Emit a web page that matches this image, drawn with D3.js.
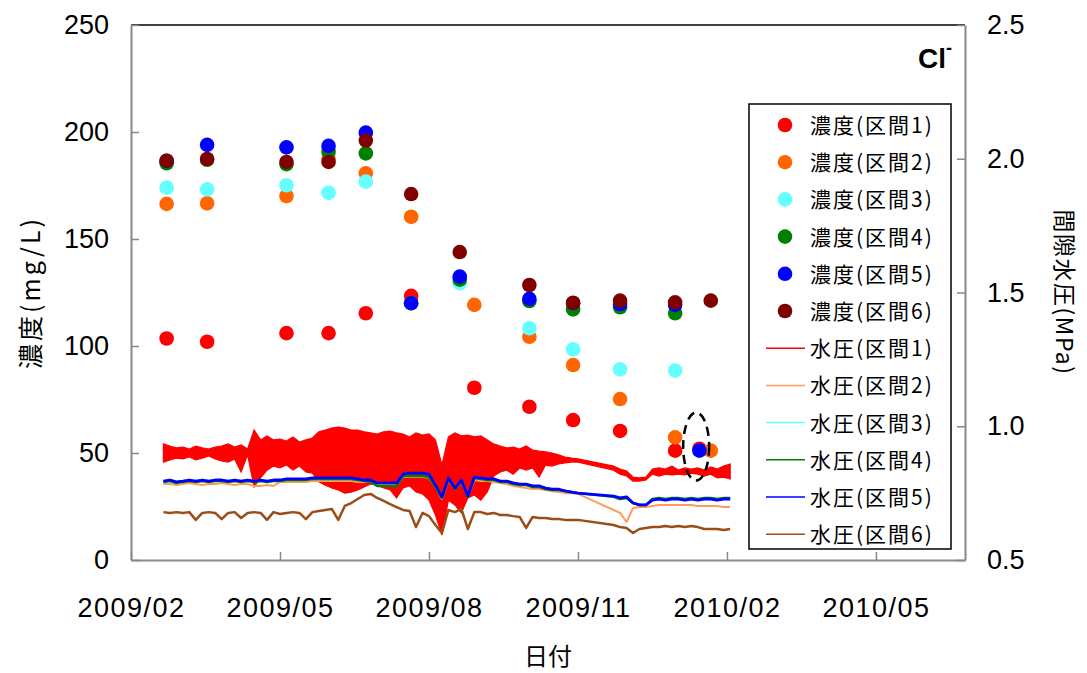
<!DOCTYPE html>
<html>
<head>
<meta charset="utf-8">
<script src="https://cdn.jsdelivr.net/npm/d3@7"></script>
<style>
body { margin: 0; background: #fff; }
text { font-family: "Liberation Sans", Arial, sans-serif; fill: #000; }
.jp { font-family: "Noto Sans CJK JP", sans-serif; }
</style>
</head>
<body>
<svg width="1087" height="673"></svg>
<script>
// concentration sampling dates (Cl-, mg/L)
var sampleDates = ["2009-02-23", "2009-03-20", "2009-05-08", "2009-06-03", "2009-06-26", "2009-07-24",
  "2009-08-23", "2009-09-01", "2009-10-05", "2009-11-01", "2009-11-30", "2010-01-03", "2010-01-18", "2010-01-25"];

var conc1 = [103.5, 102, 106, 106, 115.3, 123.4, null, 80.5, 71.6, 65.4, 60.3, 51.1, 52, null];
var conc2 = [166.4, 166.7, 170.1, 187.5, 180.7, 160.4, null, 119.2, 104.3, 91.1, 75.2, 57.3, null, 51.1];
var conc3 = [174, 173.2, 175.1, 171.6, 176.8, 120, 129.4, null, 108.3, 98.4, 89.1, 88.5, null, null];
var conc4 = [185.4, 187, 185, 190.8, 190, 120, 131, null, 121, 117.1, 118.1, 115.3, null, null];
var conc5 = [186.5, 194, 192.8, 193.5, 199.7, 120, 132.4, null, 122, 120, 119.6, 119.2, 51.1, null];
var conc6 = [186.6, 187.4, 186, 186, 196, 171, 143.9, null, 128.5, 120.2, 121.2, 120.4, null, 121.2];

// pore water pressure logger (MPa), 4-day readings, with a gap in Nov 2009
var presStartA = "2009-02-21", presCountA = 65;
var presStartB = "2009-11-26", presCountB = 19;
var presStep = 4;

// interval 1 swings a lot, so it is kept as high / low of each reading window
var pres1Hi = [0.934,0.926,0.919,0.922,0.915,0.926,0.919,0.915,0.922,0.926,
  0.934,0.922,0.930,0.915,0.986,0.949,0.964,0.949,0.952,0.945,
  0.960,0.941,0.949,0.956,0.979,0.986,0.993,0.997,0.993,0.986,
  0.986,0.979,0.975,0.971,0.979,0.982,0.975,0.971,0.960,0.975,
  0.967,0.971,0.949,0.855,0.960,0.975,0.964,0.967,0.960,0.964,
  0.949,0.934,0.926,0.919,0.922,0.915,0.926,0.911,0.907,0.904,
  0.900,0.893,0.885,0.881,0.878,
  0.851,0.840,0.833,0.810,0.807,0.810,0.840,0.844,0.840,0.851,0.836,0.844,0.840,0.844,0.836,0.848,0.840,0.851,0.859];
var pres1Lo = [0.866,0.874,0.881,0.878,0.885,0.874,0.881,0.889,0.878,0.870,
  0.866,0.878,0.829,0.893,0.773,0.807,0.836,0.851,0.844,0.855,
  0.836,0.851,0.829,0.825,0.792,0.780,0.769,0.762,0.750,0.754,
  0.762,0.773,0.784,0.780,0.769,0.762,0.732,0.769,0.777,0.754,
  0.747,0.724,0.668,0.593,0.724,0.706,0.676,0.732,0.743,0.724,
  0.754,0.814,0.829,0.836,0.821,0.844,0.836,0.844,0.810,0.855,
  0.851,0.859,0.863,0.866,0.866,
  0.836,0.821,0.814,0.795,0.795,0.799,0.821,0.814,0.821,0.818,0.821,0.818,0.825,0.821,0.814,0.821,0.807,0.810,0.803];
var pres2 = [0.784,0.784,0.780,0.784,0.788,0.784,0.780,0.784,0.784,0.788,
  0.784,0.780,0.784,0.784,0.777,0.777,0.780,0.777,0.792,0.792,
  0.792,0.792,0.792,0.795,0.795,0.795,0.795,0.795,0.795,0.795,
  0.792,0.792,0.792,0.780,0.780,0.780,0.780,0.810,0.810,0.810,
  0.810,0.807,0.773,0.728,0.799,0.765,0.792,0.736,0.799,0.795,
  0.795,0.792,0.788,0.784,0.777,0.773,0.769,0.765,0.765,0.762,
  0.758,0.754,0.750,0.750,0.747,
  0.687,0.676,0.642,0.694,0.698,0.698,0.702,0.706,0.706,0.706,0.706,0.706,0.706,0.702,0.702,0.702,0.702,0.698,0.698];
var pres3 = [0.795,0.799,0.792,0.795,0.799,0.795,0.799,0.795,0.799,0.799,
  0.795,0.799,0.795,0.799,0.795,0.799,0.795,0.799,0.799,0.803,
  0.803,0.803,0.803,0.807,0.807,0.807,0.807,0.807,0.807,0.807,
  0.803,0.799,0.799,0.788,0.788,0.788,0.788,0.821,0.825,0.825,
  0.825,0.821,0.780,0.736,0.807,0.769,0.799,0.739,0.810,0.807,
  0.803,0.803,0.795,0.795,0.788,0.784,0.784,0.777,0.777,0.769,
  0.765,0.765,0.758,0.754,0.750,
  0.739,0.732,0.736,0.713,0.706,0.706,0.724,0.728,0.724,0.728,0.728,0.724,0.728,0.724,0.728,0.728,0.724,0.728,0.728];
var pres4 = [0.792,0.795,0.788,0.792,0.795,0.792,0.795,0.792,0.795,0.795,
  0.792,0.795,0.792,0.795,0.792,0.795,0.792,0.795,0.795,0.799,
  0.799,0.799,0.799,0.803,0.803,0.803,0.803,0.803,0.803,0.803,
  0.799,0.795,0.792,0.777,0.777,0.777,0.777,0.814,0.814,0.814,
  0.814,0.810,0.773,0.732,0.803,0.765,0.795,0.736,0.807,0.803,
  0.799,0.799,0.792,0.792,0.784,0.780,0.780,0.773,0.773,0.765,
  0.762,0.762,0.758,0.754,0.750,
  0.736,0.728,0.732,0.713,0.706,0.706,0.728,0.732,0.728,0.732,0.732,0.728,0.732,0.728,0.732,0.732,0.728,0.732,0.732];
var pres5 = [0.795,0.799,0.792,0.795,0.799,0.795,0.799,0.795,0.799,0.799,
  0.795,0.799,0.795,0.799,0.795,0.799,0.795,0.799,0.799,0.803,
  0.803,0.803,0.803,0.807,0.807,0.807,0.807,0.807,0.807,0.807,
  0.803,0.799,0.799,0.788,0.788,0.788,0.788,0.821,0.825,0.825,
  0.825,0.821,0.780,0.736,0.807,0.769,0.799,0.739,0.810,0.807,
  0.803,0.803,0.795,0.795,0.788,0.784,0.784,0.777,0.777,0.769,
  0.765,0.765,0.758,0.754,0.750,
  0.739,0.732,0.736,0.713,0.706,0.706,0.724,0.728,0.724,0.728,0.728,0.724,0.728,0.724,0.728,0.728,0.724,0.728,0.728];
var pres6 = [0.679,0.676,0.679,0.676,0.679,0.650,0.676,0.679,0.676,0.653,
  0.676,0.679,0.657,0.676,0.679,0.676,0.650,0.679,0.672,0.676,
  0.679,0.676,0.653,0.679,0.683,0.687,0.691,0.650,0.702,0.713,
  0.728,0.743,0.747,0.732,0.721,0.709,0.698,0.687,0.683,0.623,
  0.676,0.664,0.631,0.601,0.687,0.679,0.691,0.616,0.679,0.679,
  0.672,0.676,0.668,0.668,0.664,0.661,0.620,0.661,0.657,0.657,
  0.653,0.653,0.650,0.650,0.650,
  0.631,0.623,0.620,0.601,0.616,0.620,0.623,0.623,0.627,0.623,0.627,0.623,0.627,0.623,0.616,0.616,0.616,0.612,0.616];

var xTickDates = ["2009-02-01", "2009-05-04", "2009-08-04", "2009-11-04", "2010-02-04", "2010-05-07"];
var yLeftTicks = [0, 50, 100, 150, 200, 250];
var yRightTicks = [0.5, 1.0, 1.5, 2.0, 2.5];

var concLabels = ["濃度(区間1)", "濃度(区間2)", "濃度(区間3)", "濃度(区間4)", "濃度(区間5)", "濃度(区間6)"];
var presLabels = ["水圧(区間1)", "水圧(区間2)", "水圧(区間3)", "水圧(区間4)", "水圧(区間5)", "水圧(区間6)"];
var concColors = ["#ff0000", "#ff6600", "#66ffff", "#008000", "#0000ff", "#800000"];
var presColors = ["#ff0000", "#ff9c5a", "#66ffff", "#008000", "#0000ff", "#9a4d16"];

var svg = d3.select("svg");
var margin = { top: 25, right: 122, bottom: 113, left: 131 };
var W = 1087, H = 673;
var parse = d3.utcParse("%Y-%m-%d");

var x = d3.scaleUtc()
  .domain([parse("2009-02-01"), parse("2010-07-01")])
  .range([margin.left, W - margin.right]);
var yL = d3.scaleLinear().domain([0, 250]).range([H - margin.bottom, margin.top]);
var yR = d3.scaleLinear().domain([0.5, 2.5]).range([H - margin.bottom, margin.top]);

// pressure dates
var daysA = d3.utcDay.range(parse(presStartA), d3.utcDay.offset(parse(presStartA), presStep * presCountA), presStep);
var daysB = d3.utcDay.range(parse(presStartB), d3.utcDay.offset(parse(presStartB), presStep * presCountB), presStep);
var presDates = daysA.concat(daysB);

// plot frame: black top, grey axes
svg.append("line")
  .attr("x1", margin.left).attr("x2", W - margin.right)
  .attr("y1", margin.top).attr("y2", margin.top)
  .attr("stroke", "#000").attr("stroke-width", 1.5);

// pressure
var g = svg.append("g");

var band = d3.area()
  .x(function(d, i) { return x(presDates[i]); })
  .y0(function(d, i) { return yR(pres1Lo[i]); })
  .y1(function(d, i) { return yR(pres1Hi[i]); });
g.append("path")
  .attr("d", band(pres1Hi))
  .attr("fill", presColors[0])
  .attr("stroke", presColors[0])
  .attr("stroke-width", 1.2);

var line = d3.line()
  .x(function(d, i) { return x(presDates[i]); })
  .y(function(d) { return yR(d); });

var presSeries = [pres2, pres3, pres4, pres5, pres6];
var presWidths = [2, 2, 2.5, 2.8, 2.5];
presSeries.forEach(function(s, k) {
  g.append("path")
    .attr("d", line(s))
    .attr("fill", "none")
    .attr("stroke", presColors[k + 1])
    .attr("stroke-width", presWidths[k])
    .attr("stroke-linejoin", "round");
});

// concentration dots
var concSeries = [conc1, conc2, conc3, conc4, conc5, conc6];
concSeries.forEach(function(s, k) {
  g.selectAll(null)
    .data(s.map(function(v, i) { return { date: parse(sampleDates[i]), v: v }; })
      .filter(function(d) { return d.v !== null; }))
    .enter().append("circle")
    .attr("cx", function(d) { return x(d.date); })
    .attr("cy", function(d) { return yL(d.v); })
    .attr("r", 7.3)
    .attr("fill", concColors[k]);
});

// dashed ring around the interval 5 reading of Jan 2010
svg.append("ellipse")
  .attr("cx", x(parse("2010-01-16")))
  .attr("cy", yL(53))
  .attr("rx", 13).attr("ry", 34)
  .attr("fill", "none")
  .attr("stroke", "#000")
  .attr("stroke-width", 2.5)
  .attr("stroke-dasharray", "9,6");

// axes
var fmt = d3.utcFormat("%Y/%m");
var xAxis = d3.axisBottom(x)
  .tickValues(xTickDates.map(parse))
  .tickFormat(fmt)
  .tickSizeInner(-8).tickSizeOuter(0)
  .tickPadding(38);
var axB = svg.append("g")
  .attr("transform", "translate(0," + (H - margin.bottom) + ")")
  .call(xAxis);

var axL = svg.append("g")
  .attr("transform", "translate(" + margin.left + ",0)")
  .call(d3.axisLeft(yL).tickValues(yLeftTicks).tickSizeInner(-8).tickSizeOuter(0).tickPadding(22));

var axR = svg.append("g")
  .attr("transform", "translate(" + (W - margin.right) + ",0)")
  .call(d3.axisRight(yR).tickValues(yRightTicks).tickFormat(d3.format(".1f"))
    .tickSizeInner(-8).tickSizeOuter(0).tickPadding(22));

[axB, axL, axR].forEach(function(a) {
  a.select(".domain").attr("stroke", "#888").attr("stroke-width", 2);
  a.selectAll(".tick line").attr("stroke", "#888").attr("stroke-width", 1.5);
  a.selectAll(".tick text")
    .attr("font-family", "Liberation Sans, Arial, sans-serif")
    .attr("font-size", 27).attr("fill", "#000");
});
axB.selectAll(".tick text").attr("letter-spacing", 1.5);

// axis titles
svg.append("text").attr("class", "jp")
  .attr("x", (margin.left + W - margin.right) / 2).attr("y", 665)
  .attr("text-anchor", "middle").attr("font-size", 24)
  .text("日付");

svg.append("text").attr("class", "jp")
  .attr("transform", "translate(40," + ((margin.top + H - margin.bottom) / 2) + ") rotate(-90)")
  .attr("text-anchor", "middle").attr("font-size", 25).attr("letter-spacing", 3)
  .text("濃度(mg/L)");

svg.append("text").attr("class", "jp")
  .attr("transform", "translate(1056," + ((margin.top + H - margin.bottom) / 2) + ") rotate(90)")
  .attr("text-anchor", "middle").attr("font-size", 23).attr("letter-spacing", 1.5)
  .text("間隙水圧(MPa)");

// ion label
var ion = svg.append("text")
  .attr("x", 918).attr("y", 68)
  .attr("font-size", 28).attr("font-weight", "bold");
ion.append("tspan").text("Cl");
ion.append("tspan").attr("dy", -14).attr("font-size", 18).text("-");

// legend
var lg = svg.append("g").attr("transform", "translate(749,104)");
lg.append("rect")
  .attr("width", 202).attr("height", 445)
  .attr("fill", "#fff").attr("stroke", "#000").attr("stroke-width", 1.5);

var rowStep = 37.2;
concLabels.forEach(function(t, i) {
  var yy = 21 + i * rowStep;
  lg.append("circle").attr("cx", 36).attr("cy", yy).attr("r", 7.3).attr("fill", concColors[i]);
  lg.append("text").attr("class", "jp").attr("x", 61).attr("y", yy + 8)
    .attr("font-size", 21).attr("letter-spacing", 2).text(t);
});
presLabels.forEach(function(t, i) {
  var yy = 21 + (i + 6) * rowStep;
  lg.append("line").attr("x1", 17).attr("x2", 56).attr("y1", yy).attr("y2", yy)
    .attr("stroke", presColors[i]).attr("stroke-width", 1.5);
  lg.append("text").attr("class", "jp").attr("x", 61).attr("y", yy + 8)
    .attr("font-size", 21).attr("letter-spacing", 2).text(t);
});
</script>
</body>
</html>
